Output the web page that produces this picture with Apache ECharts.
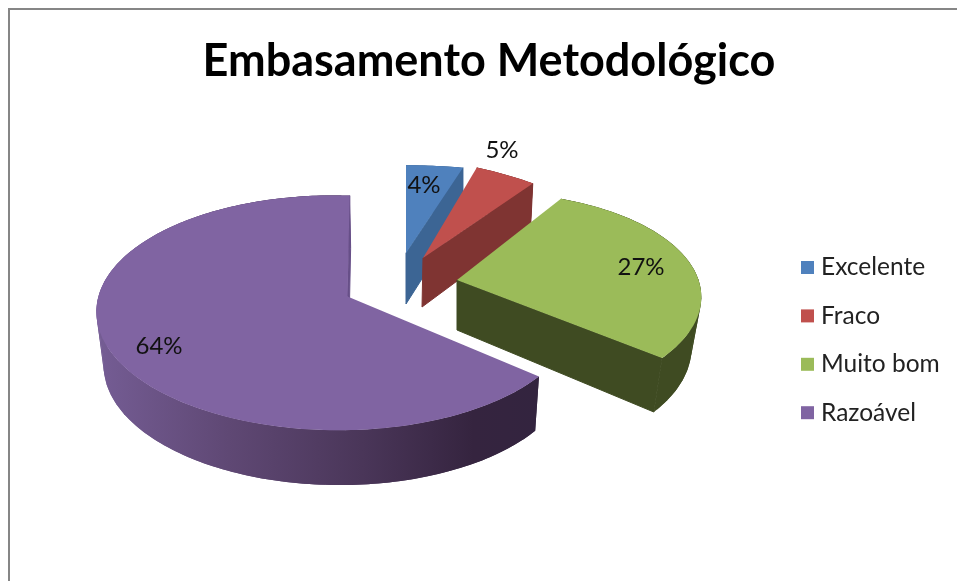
<!DOCTYPE html>
<html><head><meta charset="utf-8">
<style>html,body{margin:0;padding:0;background:#fff}#c{width:957px;height:581px;filter:blur(0.5px)}</style>
<script src="https://cdn.jsdelivr.net/npm/echarts@6/dist/echarts.min.js"></script>
</head><body><div id="c"></div>
<script>
const categories = ['Excelente', 'Fraco', 'Muito bom', 'Razoável'];
const values = [4, 5, 27, 64];
const topColors = ['#4F81BD', '#C0504D', '#9BBB59', '#8064A2'];
const titleText = 'Embasamento Metodológico';

// perspective of each exploded slice: px,py apex; a,b radii; k,m perspective; s,t shear; bx,by depth; sx,sy lower disk scale; lx,ly label
const geometry = [
  {px:406,py:253,a:260,b:100,k:.14,m:0,s:0,t:0,bx:0,by:51,sx:1,sy:1.05,lx:424,ly:185,endWall:'#3C6594',wall:'#3C6594',z:2},
  {px:423,py:258,a:262,b:113,k:.14,m:.3,s:0,t:0,bx:-1,by:49,sx:.99,sy:1.08,lx:502,ly:150,endWall:'#7F3432',wall:'#7F3432',z:3},
  {px:457,py:280,a:211,b:102,k:.18,m:-.12,s:0,t:-4,bx:0,by:50,sx:.96,sy:1.05,lx:641,ly:267,endWall:'#3F4B22',wall:'#3F4B22',z:4},
  {px:347.5,py:296.5,a:237,b:115,k:.14,m:.045,s:-2.5,t:3,bx:1,by:53.5,sx:.975,sy:1.01,lx:159,ly:346,endWall:'#674F88',z:1,
   wall:{type:'linear',global:true,x:95,y:0,x2:540,y2:0,colorStops:[
     {offset:0,color:'#755D95'},{offset:.3,color:'#5F4874'},{offset:.6,color:'#4A3659'},{offset:.85,color:'#35243F'},{offset:1,color:'#33243F'}]}}
];

const total = values.reduce((s, v) => s + v, 0);
let acc = 0;
const spans = values.map(v => { const s = acc / total * 2 * Math.PI; acc += v; return [s, acc / total * 2 * Math.PI]; });

function project(g, t, lower) {
  const X = Math.sin(t), Y = -Math.cos(t);
  const w = 1 - g.k * Y + g.m * X;
  const dx = (g.a * X + g.s * Y) / w, dy = (g.b * Y + g.t * X) / w;
  return lower ? [g.px + g.bx + dx * g.sx, g.py + g.by + dy * g.sy] : [g.px + dx, g.py + dy];
}
function arc(g, t0, t1, lower) {
  const n = Math.max(6, Math.ceil((t1 - t0) / 0.02)), pts = [];
  for (let i = 0; i <= n; i++) pts.push(project(g, t0 + (t1 - t0) * i / n, lower));
  return pts;
}
function renderSlice(i) {
  return function (params, api) {
    const g = geometry[i], [t0, t1] = spans[i];
    const top = arc(g, t0, t1, false), low = arc(g, t0, t1, true);
    const apex = [g.px, g.py], apexB = [g.px + g.bx, g.py + g.by];
    const val = api.value(0);
    const kids = [];
    // the wall swept between the two rims, so its silhouette has no notch
    for (let j = 0; j + 4 < top.length; j += 4) {
      kids.push({type: 'polygon', shape: {points: [top[j], top[j + 4], low[j + 4], low[j]]},
        style: {fill: g.wall}});
    }
    kids.push(
      {type: 'polygon', shape: {points: top.concat(low.slice().reverse())}, style: {fill: g.wall}},
      {type: 'polygon', shape: {points: [apex, top[top.length - 1], low[low.length - 1], apexB]}, style: {fill: g.endWall, stroke: g.endWall, lineWidth: 1}},
      {type: 'polygon', shape: {points: [apex].concat(top)}, style: {fill: topColors[i]}},
      {type: 'text', x: g.lx, y: g.ly, z2: 10, style: {text: val + '%', fill: '#111', font: '24px Lato', align: 'center', verticalAlign: 'middle'}}
    );
    return {type: 'group', children: kids};
  };
}

const chart = echarts.init(document.getElementById('c'), null, {renderer: 'canvas'});
chart.setOption({
  animation: false,
  backgroundColor: '#fff',
  title: {text: titleText, left: 484, textAlign: 'center', top: 34,
    textStyle: {fontFamily: 'Lato', fontWeight: 'bold', fontSize: 45, color: '#000'}},
  legend: {orient: 'vertical', left: 796, top: 250, itemWidth: 13, itemHeight: 13, itemGap: 23.4,
    icon: 'rect', data: categories, selectedMode: false,
    textStyle: {fontFamily: 'Lato', fontSize: 24.5, lineHeight: 24, color: '#222', padding: [0, 0, 0, 2]}},
  graphic: [{type: 'polyline', silent: true,
    shape: {points: [[9, 590], [9, 9], [970, 9]]},
    style: {stroke: '#868686', lineWidth: 2, fill: null}}],
  series: categories.map((name, i) => ({
    type: 'custom', name, coordinateSystem: 'none', clip: false,
    z: geometry[i].z,
    itemStyle: {color: topColors[i]},
    renderItem: renderSlice(i),
    data: [[values[i]]]
  }))
});
</script></body></html>
